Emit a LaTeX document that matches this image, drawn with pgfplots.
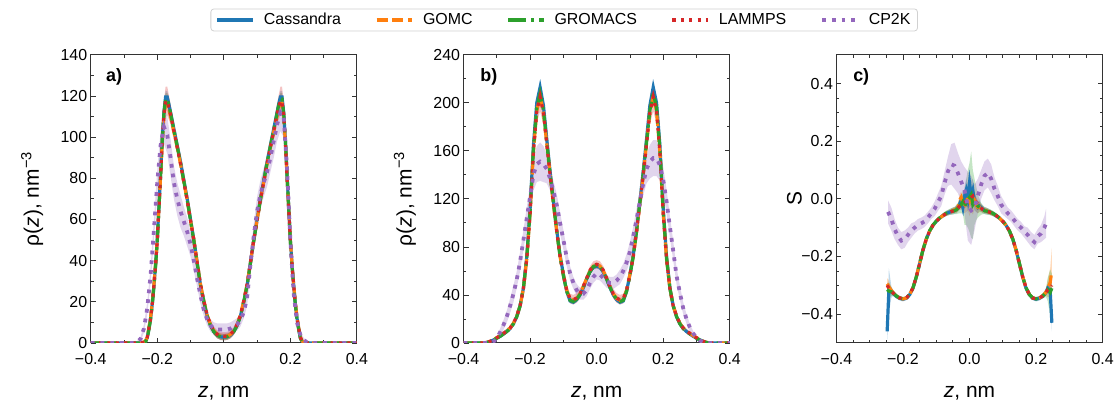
\documentclass[border=0pt]{standalone}
\usepackage{fontspec}
\setmainfont{Liberation Sans}
\usepackage{pgfplots}
\usepackage{pgfplotstable}
\pgfplotsset{compat=1.18}
\usepgfplotslibrary{fillbetween}

\definecolor{cB}{HTML}{1F77B4}
\definecolor{cO}{HTML}{FF7F0E}
\definecolor{cG}{HTML}{2CA02C}
\definecolor{cR}{HTML}{D62728}
\definecolor{cP}{HTML}{9467BD}

\tikzset{
  cas/.style={cB, line width=3.2pt, solid, line cap=butt},
  gomc/.style={cO, line width=3.2pt, dash pattern=on 11pt off 5pt, line cap=butt},
  grom/.style={cG, line width=3.2pt, dash pattern=on 18pt off 5pt on 3.2pt off 5pt, line cap=butt},
  lamm/.style={cR, line width=3.2pt, dash pattern=on 3.2pt off 5.2pt, line cap=butt},
  cp2k/.style={cP, line width=3.8pt, dash pattern=on 3.8pt off 6pt, line cap=butt},
}

\pgfplotsset{
  panel/.style={
    scale only axis, width=267pt, height=289pt, anchor=south west,
    xmin=-0.4, xmax=0.4, xtick={-0.4,-0.2,0,0.2,0.4},
    xticklabels={−0.4,−0.2,0.0,0.2,0.4},
    tick align=inside, major tick length=5pt, minor tick length=2.8pt,
    minor x tick num=1, minor y tick num=1,
    axis line style={black!80, line width=0.9pt},
    tick style={black!80, line width=0.8pt},
    tick label style={font=\fontsize{16}{19}\selectfont},
    xticklabel style={yshift=-7pt},
    xlabel={\textit{z}, nm},
    every axis x label/.style={at={(axis description cs:0.5,-0.173)}, anchor=center,
      font=\fontsize{21}{25}\selectfont},
    every axis y label/.style={at={(axis description cs:-0.22,0.5)}, anchor=center,
      rotate=90, font=\fontsize{21}{25}\selectfont},
    /pgf/number format/assume math mode=true,
  },
}

% band: table, y column, error column, fill, path name
\newcommand{\band}[5]{%
  \addplot[draw=none, forget plot, name path=#5u] table[x=z, y expr=\thisrow{#2}+\thisrow{#3}] {#1};
  \addplot[draw=none, forget plot, name path=#5l] table[x=z, y expr=\thisrow{#2}-\thisrow{#3}] {#1};
  \addplot[#4, fill opacity=0.28, draw=none, forget plot] fill between[of=#5u and #5l];
}

% panel a: density, first system
\pgfplotstableread{
z cas gomc grom lamm e el
-0.40 0 0 0 0 0.2 0.2
-0.30 0 0 0 0 0.2 0.2
-0.25 0 0 0 0 0.3 0.3
-0.24 0.3 0.4 0.3 0.4 0.5 0.6
-0.235 0.8 1 0.7 0.9 0.8 1
-0.23 2.5 3 2.3 2.8 1 1.5
-0.225 7 7.5 6.6 7.2 1.5 2
-0.22 12 12.5 11.5 12 2 2.5
-0.215 19 19.5 18.5 19 2 3
-0.21 28 28.5 27.5 28 2.5 3.5
-0.205 38 38.5 37.5 38 2.5 4
-0.20 50 50 49.5 50 3 4.5
-0.195 66 65.5 65.5 65.5 3 5
-0.19 82 81 81.5 81 3 5.5
-0.185 99 97.5 98.5 98 3 6
-0.18 112 110 111.5 111 3 6.5
-0.175 119.5 116.5 118.5 117.5 3 7
-0.17 119.5 116.5 118.5 117.5 3 7
-0.165 116 113.5 115.5 114.5 3 6
-0.16 112 110 111.5 111 3 5
-0.15 104 102.5 103.5 103 2.5 4
-0.14 96 95 95.5 95 2.5 3.5
-0.13 88 87 87.5 87 2 3
-0.12 79 78 78.5 78 2 3
-0.11 70 69.5 69.5 69.5 2 2.5
-0.10 60 59.5 59.5 59.5 2 2.5
-0.09 50 50 49.5 50 2 2.5
-0.08 39 39 38.5 39 1.5 2
-0.07 28 28.5 28 28.5 1.5 2
-0.06 20 20.5 20 20.5 1.5 2
-0.05 13 13.5 13 13.5 1.5 2
-0.04 8.5 9 8.5 9 1.5 2
-0.03 5.5 5.9 5.5 5.9 1.5 2
-0.02 3.8 4.1 3.8 4.2 1.5 2
-0.01 3.0 3.3 3.0 3.4 1.5 2
0.00 2.8 3.1 2.8 3.2 1.5 2
0.01 3.0 3.3 3.0 3.4 1.5 2
0.02 3.8 4.1 3.8 4.2 1.5 2
0.03 5.5 5.9 5.5 5.9 1.5 2
0.04 8.5 9 8.5 9 1.5 2
0.05 13 13.5 13 13.5 1.5 2
0.06 20 20.5 20 20.5 1.5 2
0.07 28 28.5 28 28.5 1.5 2
0.08 39 39 38.5 39 1.5 2
0.09 50 50 49.5 50 2 2.5
0.10 60 59.5 59.5 59.5 2 2.5
0.11 70 69.5 69.5 69.5 2 2.5
0.12 79 78 78.5 78 2 3
0.13 88 87 87.5 87 2 3
0.14 96 95 95.5 95 2.5 3.5
0.15 104 102.5 103.5 103 2.5 4
0.16 112 110 111.5 111 3 5
0.165 116 113.5 115.5 114.5 3 6
0.17 119.5 116.5 118.5 117.5 3 7
0.175 119.5 116.5 118.5 117.5 3 7
0.18 112 110 111.5 111 3 6.5
0.185 99 97.5 98.5 98 3 6
0.19 82 81 81.5 81 3 5.5
0.195 66 65.5 65.5 65.5 3 5
0.20 50 50 49.5 50 3 4.5
0.205 38 38.5 37.5 38 2.5 4
0.21 28 28.5 27.5 28 2.5 3.5
0.215 19 19.5 18.5 19 2 3
0.22 12 12.5 11.5 12 2 2.5
0.225 7 7.5 6.6 7.2 1.5 2
0.23 2.5 3 2.3 2.8 1 1.5
0.235 0.8 1 0.7 0.9 0.8 1
0.24 0.3 0.4 0.3 0.4 0.5 0.6
0.25 0 0 0 0 0.3 0.3
0.30 0 0 0 0 0.2 0.2
0.40 0 0 0 0 0.2 0.2
}\tabA

\pgfplotstableread{
z y e
-0.40 0 0.3
-0.27 0 0.3
-0.26 0.5 0.5
-0.25 2 1
-0.24 7 2
-0.23 17 3
-0.22 33 4
-0.21 55 5
-0.20 78 6
-0.19 96 7
-0.18 105 8
-0.17 101 9
-0.16 90 9
-0.15 78 8
-0.14 70 8
-0.13 64 8
-0.12 59 7
-0.11 54 7
-0.10 48 6
-0.09 40 5
-0.08 31 4
-0.07 23 4
-0.06 16 3
-0.05 11.5 3
-0.04 8.5 3
-0.03 7 3
-0.02 6.5 3
-0.01 6.5 3
0 6.5 3
0.01 6.5 3
0.02 7 3
0.03 8 3
0.04 9 3
0.05 11 3
0.06 15 3
0.07 22 4
0.08 38 5
0.09 52 6
0.10 64 7
0.11 72 7
0.12 78 7
0.13 83 7
0.14 90 7
0.15 98 8
0.16 106 8
0.17 112 9
0.18 110 10
0.19 85 8
0.20 50 6
0.21 24 4
0.22 10 3
0.23 4 2
0.24 1.5 1
0.25 0.3 0.5
0.26 0 0.3
0.40 0 0.3
}\tabAc

% panel b: density, second system
\pgfplotstableread{
z cas gomc grom lamm e el
-0.40 0 0 0 0 0.3 0.3
-0.34 0 0 0 0 0.3 0.3
-0.33 0.4 0.5 0.4 0.5 0.4 0.5
-0.32 1.2 1.4 1.2 1.4 0.6 0.8
-0.31 2.5 2.8 2.5 2.8 0.8 1
-0.30 4 4.4 4 4.4 1 1.5
-0.29 5.5 6 5.5 6 1 1.5
-0.28 7.5 8 7.5 8 1 2
-0.27 9.5 10 9.5 10 1 2
-0.26 12 12.5 12 12.5 1 2
-0.25 16 16.5 16 16.5 1 2
-0.24 22 22.5 22 22.5 1.5 2.5
-0.23 31 31 31 31 1.5 3
-0.22 46 45.5 46 45.5 2 3.5
-0.21 72 70 71 70 2 4
-0.20 112 108 110 108 3 6
-0.19 165 159 162 159 4 8
-0.18 200 193 196 193 4 10
-0.17 213 206 208 205 4 12
-0.16 198 192 194 192 4 10
-0.15 170 166 167 166 4 8
-0.14 143 140 141 140 3 6
-0.13 118 116 117 116 3 5
-0.12 94 93 93 93 2.5 4
-0.11 73 72 72 72 2 4
-0.10 57 57 56 57 2 4
-0.09 43 44 43 44 2 4
-0.08 35 36.5 35.5 37 2 4
-0.07 34 35.5 34.5 36 2 4
-0.06 36 37 36.5 37.5 2 4
-0.05 40 41 40.5 41 2 4
-0.04 46 47 46.5 47 2 3.5
-0.03 53 54 53.5 54 2 3.5
-0.02 59 60 59.5 60.5 2 3.5
-0.01 63 64 63.5 64.5 2 3.5
0.00 64 65 64.5 65.5 2 3.5
0.01 63 64 63.5 64.5 2 3.5
0.02 59 60 59.5 60.5 2 3.5
0.03 53 54 53.5 54 2 3.5
0.04 46 47 46.5 47 2 3.5
0.05 40 41 40.5 41 2 4
0.06 36 37 36.5 37.5 2 4
0.07 34 35.5 34.5 36 2 4
0.08 35 36.5 35.5 37 2 4
0.09 43 44 43 44 2 4
0.10 57 57 56 57 2 4
0.11 73 72 72 72 2 4
0.12 94 93 93 93 2.5 4
0.13 118 116 117 116 3 5
0.14 143 140 141 140 3 6
0.15 170 166 167 166 4 8
0.16 198 192 194 192 4 10
0.17 213 206 208 205 4 12
0.18 200 193 196 193 4 10
0.19 165 159 162 159 4 8
0.20 112 108 110 108 3 6
0.21 72 70 71 70 2 4
0.22 46 45.5 46 45.5 2 3.5
0.23 31 31 31 31 1.5 3
0.24 22 22.5 22 22.5 1.5 2.5
0.25 16 16.5 16 16.5 1 2
0.26 12 12.5 12 12.5 1 2
0.27 9.5 10 9.5 10 1 2
0.28 7.5 8 7.5 8 1 2
0.29 5.5 6 5.5 6 1 1.5
0.30 4 4.4 4 4.4 1 1.5
0.31 2.5 2.8 2.5 2.8 0.8 1
0.32 1.2 1.4 1.2 1.4 0.6 0.8
0.33 0.4 0.5 0.4 0.5 0.4 0.5
0.34 0 0 0 0 0.3 0.3
0.40 0 0 0 0 0.3 0.3
}\tabB

\pgfplotstableread{
z y e
-0.40 0 0.3
-0.32 0 0.5
-0.31 1 1
-0.30 4 2
-0.29 9 3
-0.28 15 4
-0.27 22 5
-0.26 31 6
-0.25 41 7
-0.24 53 7
-0.23 68 8
-0.22 86 8
-0.21 104 9
-0.20 122 10
-0.19 140 13
-0.18 149 15
-0.17 151 16
-0.16 149 15
-0.15 145 12
-0.14 137 10
-0.13 126 9
-0.12 115 9
-0.11 100 9
-0.10 86 8
-0.09 71 7
-0.08 58 6
-0.07 50 5
-0.06 44 5
-0.05 41 5
-0.04 41 5
-0.03 44 5
-0.02 50 5
-0.01 55 5
0 58 5
0.01 57 5
0.02 54 5
0.03 51 5
0.04 50 5
0.05 50 5
0.06 52 5
0.07 55 6
0.08 60 6
0.09 67 7
0.10 76 8
0.11 89 8
0.12 103 9
0.13 118 9
0.14 133 10
0.15 145 12
0.16 151 14
0.17 154 15
0.18 154 15
0.19 148 13
0.20 136 11
0.21 118 10
0.22 97 9
0.23 77 8
0.24 56 7
0.25 42 6
0.26 29 5
0.27 20 4
0.28 13 3
0.29 8 2
0.30 4.5 1.5
0.31 2 1
0.32 0.8 0.5
0.33 0 0.3
0.40 0 0.3
}\tabBc

% panel c: order parameter
\pgfplotstableread{
z cas gomc grom lamm ec eo eg el
-0.2475 -0.46 -0.295 -0.315 -0.300 0.03 0.02 0.02 0.01
-0.2425 -0.32 -0.305 -0.320 -0.310 0.08 0.02 0.03 0.01
-0.235 -0.323 -0.318 -0.322 -0.320 0.02 0.012 0.015 0.008
-0.23 -0.327 -0.325 -0.326 -0.326 0.01 0.01 0.01 0.006
-0.22 -0.338 -0.336 -0.337 -0.337 0.008 0.008 0.008 0.005
-0.21 -0.345 -0.344 -0.344 -0.344 0.008 0.006 0.006 0.005
-0.20 -0.348 -0.347 -0.347 -0.347 0.008 0.006 0.006 0.005
-0.19 -0.345 -0.344 -0.344 -0.344 0.006 0.006 0.006 0.005
-0.18 -0.333 -0.332 -0.332 -0.332 0.006 0.005 0.005 0.004
-0.17 -0.31 -0.309 -0.309 -0.309 0.006 0.005 0.005 0.004
-0.16 -0.272 -0.271 -0.271 -0.271 0.006 0.005 0.005 0.004
-0.15 -0.225 -0.225 -0.224 -0.225 0.006 0.005 0.005 0.004
-0.14 -0.178 -0.178 -0.177 -0.178 0.006 0.005 0.005 0.004
-0.13 -0.14 -0.14 -0.139 -0.14 0.006 0.005 0.005 0.004
-0.12 -0.112 -0.112 -0.111 -0.112 0.006 0.005 0.005 0.004
-0.11 -0.092 -0.092 -0.091 -0.092 0.006 0.005 0.006 0.004
-0.10 -0.078 -0.078 -0.077 -0.078 0.006 0.006 0.006 0.004
-0.09 -0.067 -0.067 -0.066 -0.067 0.007 0.006 0.007 0.005
-0.08 -0.058 -0.058 -0.057 -0.058 0.008 0.007 0.008 0.005
-0.07 -0.051 -0.051 -0.05 -0.051 0.009 0.008 0.009 0.006
-0.06 -0.046 -0.046 -0.045 -0.046 0.01 0.009 0.01 0.006
-0.05 -0.042 -0.041 -0.042 -0.042 0.012 0.01 0.012 0.007
-0.045 -0.04 -0.038 -0.041 -0.04 0.012 0.01 0.012 0.008
-0.04 -0.036 -0.037 -0.038 -0.037 0.014 0.012 0.015 0.008
-0.035 -0.03 -0.03 -0.033 -0.032 0.015 0.014 0.018 0.01
-0.03 -0.02 -0.005 -0.025 -0.026 0.018 0.02 0.025 0.012
-0.025 -0.005 0.005 -0.02 -0.022 0.02 0.02 0.03 0.015
-0.02 -0.03 -0.015 -0.01 -0.016 0.025 0.025 0.04 0.015
-0.015 0.01 -0.02 -0.03 -0.012 0.03 0.03 0.06 0.02
-0.01 0.03 -0.005 -0.01 -0.008 0.04 0.04 0.08 0.02
-0.005 0.0 0.0 0.0 -0.004 0.05 0.04 0.1 0.025
0.0 0.055 -0.01 0.005 0.0 0.04 0.05 0.12 0.03
0.005 0.01 0.0 0.015 0.005 0.05 0.04 0.15 0.025
0.01 0.03 -0.015 -0.02 0.01 0.04 0.04 0.12 0.02
0.015 -0.01 -0.005 -0.01 -0.005 0.03 0.03 0.08 0.02
0.02 -0.02 -0.02 -0.015 -0.012 0.025 0.025 0.06 0.015
0.025 -0.03 -0.03 -0.025 -0.02 0.02 0.02 0.04 0.015
0.03 -0.025 -0.028 -0.03 -0.026 0.018 0.018 0.03 0.012
0.035 -0.03 -0.032 -0.035 -0.032 0.015 0.014 0.02 0.01
0.04 -0.036 -0.037 -0.038 -0.037 0.014 0.012 0.015 0.008
0.045 -0.04 -0.039 -0.041 -0.04 0.012 0.01 0.012 0.008
0.05 -0.042 -0.041 -0.042 -0.042 0.012 0.01 0.012 0.007
0.06 -0.046 -0.046 -0.045 -0.046 0.01 0.009 0.01 0.006
0.07 -0.051 -0.051 -0.05 -0.051 0.009 0.008 0.009 0.006
0.08 -0.058 -0.058 -0.057 -0.058 0.008 0.007 0.008 0.005
0.09 -0.067 -0.067 -0.066 -0.067 0.007 0.006 0.007 0.005
0.10 -0.078 -0.078 -0.077 -0.078 0.006 0.006 0.006 0.004
0.11 -0.092 -0.092 -0.091 -0.092 0.006 0.005 0.006 0.004
0.12 -0.112 -0.112 -0.111 -0.112 0.006 0.005 0.005 0.004
0.13 -0.14 -0.14 -0.139 -0.14 0.006 0.005 0.005 0.004
0.14 -0.178 -0.178 -0.177 -0.178 0.006 0.005 0.005 0.004
0.15 -0.225 -0.225 -0.224 -0.225 0.006 0.005 0.005 0.004
0.16 -0.272 -0.271 -0.271 -0.271 0.006 0.005 0.005 0.004
0.17 -0.31 -0.309 -0.309 -0.309 0.006 0.005 0.005 0.004
0.18 -0.333 -0.332 -0.332 -0.332 0.006 0.005 0.005 0.004
0.19 -0.345 -0.344 -0.344 -0.344 0.006 0.006 0.006 0.005
0.20 -0.348 -0.347 -0.347 -0.347 0.008 0.006 0.006 0.005
0.21 -0.345 -0.344 -0.344 -0.344 0.008 0.006 0.006 0.005
0.22 -0.338 -0.336 -0.337 -0.337 0.008 0.008 0.008 0.005
0.23 -0.325 -0.324 -0.326 -0.325 0.01 0.012 0.015 0.006
0.235 -0.31 -0.31 -0.315 -0.315 0.015 0.03 0.04 0.008
0.2425 -0.32 -0.29 -0.325 -0.31 0.02 0.05 0.08 0.01
0.2475 -0.43 -0.25 -0.31 -0.30 0.03 0.08 0.05 0.01
}\tabC

\pgfplotstableread{
z y e
-0.245 -0.045 0.04
-0.235 -0.07 0.04
-0.225 -0.105 0.035
-0.215 -0.13 0.03
-0.205 -0.145 0.03
-0.195 -0.14 0.03
-0.185 -0.125 0.025
-0.175 -0.11 0.025
-0.165 -0.1 0.02
-0.155 -0.09 0.02
-0.145 -0.085 0.02
-0.135 -0.078 0.02
-0.125 -0.065 0.02
-0.115 -0.05 0.02
-0.105 -0.035 0.025
-0.095 -0.012 0.03
-0.085 0.01 0.035
-0.075 0.055 0.04
-0.065 0.095 0.05
-0.055 0.12 0.07
-0.045 0.115 0.08
-0.035 0.09 0.07
-0.025 0.06 0.07
-0.015 0.03 0.08
-0.005 -0.025 0.12
0.005 -0.04 0.12
0.015 -0.03 0.08
0.025 0.01 0.06
0.035 0.05 0.05
0.045 0.08 0.05
0.055 0.09 0.05
0.065 0.07 0.05
0.075 0.035 0.04
0.085 0.01 0.035
0.095 -0.02 0.03
0.105 -0.035 0.025
0.115 -0.05 0.02
0.125 -0.06 0.02
0.135 -0.075 0.02
0.145 -0.09 0.02
0.155 -0.1 0.02
0.165 -0.115 0.02
0.175 -0.125 0.025
0.185 -0.14 0.025
0.195 -0.15 0.025
0.205 -0.13 0.025
0.215 -0.12 0.03
0.225 -0.1 0.04
0.23 -0.085 0.05
}\tabCc

\begin{document}
\begin{tikzpicture}
% ---- a) ----
\begin{axis}[panel, at={(91pt,63pt)},
  ymin=0, ymax=140, ytick={0,20,...,140},
  ylabel={ρ(\textit{z}), nm\textsuperscript{−3}}]
  \band{\tabA}{cas}{e}{fill=cB}{acas}
  \band{\tabA}{gomc}{e}{fill=cO}{agomc}
  \band{\tabA}{grom}{e}{fill=cG}{agrom}
  \band{\tabA}{lamm}{el}{fill=cR}{alamm}
  \band{\tabAc}{y}{e}{fill=cP}{acp}
  \addplot[cas, forget plot] table[x=z, y=cas] {\tabA};
  \addplot[gomc, forget plot] table[x=z, y=gomc] {\tabA};
  \addplot[grom, forget plot] table[x=z, y=grom] {\tabA};
  \addplot[lamm, forget plot] table[x=z, y=lamm] {\tabA};
  \addplot[cp2k, forget plot] table[x=z, y=y] {\tabAc};
  \node[font=\bfseries\fontsize{18}{20}\selectfont, anchor=west] at (rel axis cs:0.045,0.925) {a)};
\end{axis}

% ---- b) ----
\begin{axis}[panel, at={(465pt,63pt)},
  ymin=0, ymax=240, ytick={0,40,...,240},
  ylabel={ρ(\textit{z}), nm\textsuperscript{−3}},
  legend columns=5,
  legend image code/.code={\draw[#1] (0pt,0pt) -- (36pt,0pt);},
  legend style={at={(axis description cs:0.378,1.121)}, anchor=center,
    draw=black!18, line width=0.8pt, rounded corners=3pt,
    font=\fontsize{16}{19}\selectfont, inner xsep=5pt, inner ysep=2.5pt,
    /tikz/every even column/.append style={column sep=32pt}}]
  \band{\tabB}{cas}{e}{fill=cB}{bcas}
  \band{\tabB}{gomc}{e}{fill=cO}{bgomc}
  \band{\tabB}{grom}{e}{fill=cG}{bgrom}
  \band{\tabB}{lamm}{el}{fill=cR}{blamm}
  \band{\tabBc}{y}{e}{fill=cP}{bcp}
  \addplot[cas, forget plot] table[x=z, y=cas] {\tabB};
  \addplot[gomc, forget plot] table[x=z, y=gomc] {\tabB};
  \addplot[grom, forget plot] table[x=z, y=grom] {\tabB};
  \addplot[lamm, forget plot] table[x=z, y=lamm] {\tabB};
  \addplot[cp2k, forget plot] table[x=z, y=y] {\tabBc};
  \addlegendimage{cas}\addlegendentry{\hspace*{7pt}Cassandra}
  \addlegendimage{gomc}\addlegendentry{\hspace*{7pt}GOMC}
  \addlegendimage{grom}\addlegendentry{\hspace*{7pt}GROMACS}
  \addlegendimage{lamm}\addlegendentry{\hspace*{7pt}LAMMPS}
  \addlegendimage{cp2k}\addlegendentry{\hspace*{7pt}CP2K}
  \node[font=\bfseries\fontsize{18}{20}\selectfont, anchor=west] at (rel axis cs:0.05,0.925) {b)};
\end{axis}

% ---- c) ----
\begin{axis}[panel, at={(839pt,63pt)},
  ymin=-0.5, ymax=0.5, ytick={-0.4,-0.2,0,0.2,0.4},
  yticklabels={−0.4,−0.2,0.0,0.2,0.4},
  minor x tick num=3, minor y tick num=3,
  ylabel={S},
  every axis y label/.style={at={(axis description cs:-0.158,0.5)}, anchor=center,
    rotate=90, font=\fontsize{21}{25}\selectfont}]
  \band{\tabC}{cas}{ec}{fill=cB}{ccas}
  \band{\tabC}{gomc}{eo}{fill=cO}{cgomc}
  \band{\tabC}{grom}{eg}{fill=cG}{cgrom}
  \band{\tabC}{lamm}{el}{fill=cR}{clamm}
  \band{\tabCc}{y}{e}{fill=cP}{ccp}
  \addplot[cas, forget plot] table[x=z, y=cas] {\tabC};
  \addplot[gomc, forget plot] table[x=z, y=gomc] {\tabC};
  \addplot[grom, forget plot] table[x=z, y=grom] {\tabC};
  \addplot[lamm, forget plot] table[x=z, y=lamm] {\tabC};
  \addplot[cp2k, forget plot] table[x=z, y=y] {\tabCc};
  \node[font=\bfseries\fontsize{18}{20}\selectfont, anchor=west] at (rel axis cs:0.05,0.925) {c)};
\end{axis}
\path (0pt,0pt) rectangle (1117pt,407pt);
\end{tikzpicture}
\end{document}
